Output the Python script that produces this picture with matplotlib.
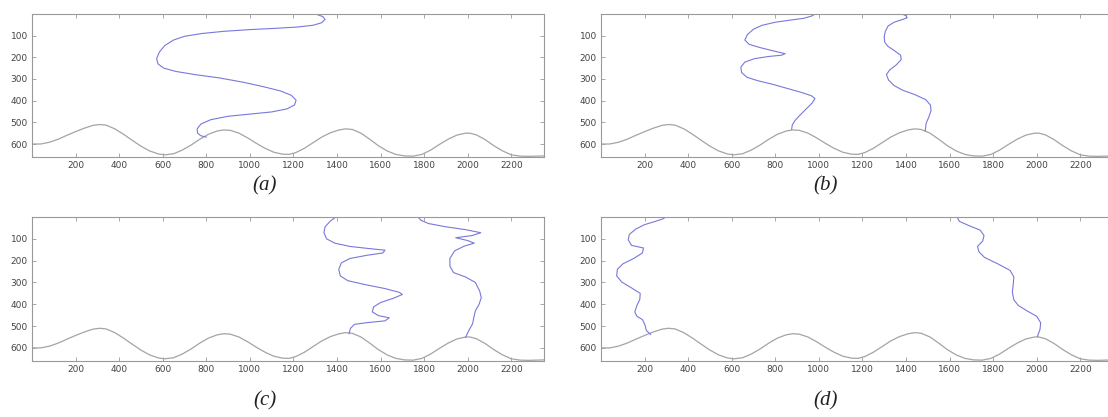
import matplotlib.pyplot as plt

# shared wavy ground line (same in all four panels)
ground_x = [0, 40, 80, 120, 160, 200, 240, 280, 310, 340, 380, 420, 460, 500, 540, 580,
            610, 650, 690, 730, 770, 810, 850, 880, 910, 950, 990, 1030, 1070, 1110, 1150,
            1180, 1210, 1250, 1290, 1330, 1370, 1410, 1440, 1470, 1510, 1550, 1590, 1630,
            1670, 1710, 1750, 1790, 1830, 1870, 1910, 1950, 1990, 2010, 2040, 2080, 2120,
            2160, 2200, 2240, 2280, 2350]
ground_y = [600, 600, 592, 578, 560, 543, 527, 514, 510, 513, 530, 555, 583, 610, 632, 646,
            650, 645, 628, 605, 578, 555, 540, 535, 537, 550, 572, 597, 620, 638, 647,
            648, 640, 620, 594, 568, 548, 535, 530, 533, 550, 578, 608, 632,
            648, 655, 656, 648, 628, 602, 578, 559, 550, 550, 558, 580, 608,
            632, 650, 656, 657, 655]

# (a)
a_x = [1310, 1335, 1345, 1330, 1290, 1220, 1120, 1000, 880, 780, 700, 650, 610, 585, 572,
       578, 605, 660, 750, 860, 970, 1060, 1140, 1190, 1212, 1205, 1170, 1100, 1000, 900,
       820, 775, 758, 760, 775, 800]
a_y = [3, 12, 25, 40, 52, 60, 66, 72, 80, 90, 103, 120, 145, 175, 205,
       230, 250, 265, 280, 295, 315, 335, 355, 375, 398, 420, 438, 452, 462, 472,
       488, 508, 530, 550, 562, 568]

# (b)
b1_x = [984, 965, 930, 870, 800, 740, 700, 672, 660, 680, 730, 790, 845, 830, 770, 705,
        660, 642, 645, 670, 720, 790, 860, 920, 965, 982, 970, 945, 915, 890, 878, 875]
b1_y = [0, 10, 20, 28, 38, 52, 70, 95, 120, 140, 155, 170, 183, 190, 196, 206,
        222, 245, 270, 292, 308, 325, 345, 362, 377, 390, 410, 435, 465, 492, 512, 532]
b2_x = [1382, 1400, 1405, 1385, 1345, 1318, 1305, 1300, 1302, 1318, 1345, 1375, 1378,
        1355, 1325, 1310, 1320, 1345, 1385, 1440, 1490, 1512, 1515, 1505, 1492, 1490, 1488]
b2_y = [0, 8, 17, 25, 38, 55, 80, 105, 130, 150, 168, 190, 210,
        235, 258, 280, 305, 330, 352, 372, 395, 420, 445, 475, 505, 525, 540]

# (c)
c1_x = [1395, 1370, 1345, 1340, 1352, 1390, 1460, 1550, 1620, 1610, 1540, 1460, 1420,
        1408, 1415, 1450, 1530, 1620, 1685, 1700, 1660, 1600, 1568, 1562, 1590, 1640,
        1620, 1540, 1480, 1462, 1455]
c1_y = [0, 18, 45, 72, 100, 120, 135, 145, 152, 165, 175, 190, 210,
        240, 270, 292, 310, 328, 345, 355, 372, 392, 412, 435, 452, 462,
        476, 484, 492, 510, 535]
c2_x = [1772, 1785, 1820, 1900, 1990, 2060, 2020, 1945, 2000, 2030, 1985, 1940, 1918,
        1918, 1935, 1990, 2035, 2055, 2062, 2052, 2035, 2028, 2022, 2005, 1990]
c2_y = [0, 15, 30, 45, 58, 72, 85, 95, 108, 120, 133, 155, 190,
        225, 255, 275, 300, 340, 370, 400, 430, 460, 490, 520, 552]

# (d)
d1_x = [298, 285, 250, 200, 160, 130, 125, 140, 195, 190, 150, 100, 75, 72, 95, 140,
        180, 178, 165, 155, 165, 190, 202, 208, 228]
d1_y = [0, 8, 20, 35, 55, 80, 105, 130, 142, 165, 190, 215, 240, 270, 298, 325,
        350, 378, 405, 435, 455, 470, 495, 520, 538]
d2_x = [1634, 1645, 1690, 1740, 1758, 1752, 1728, 1735, 1760, 1822, 1878, 1895, 1892,
        1888, 1895, 1915, 1955, 2000, 2018, 2015, 2003]
d2_y = [0, 20, 40, 60, 85, 110, 135, 160, 185, 215, 245, 275, 310,
        345, 380, 405, 430, 455, 485, 515, 548]

panels = [
    ('(a)', [(a_x, a_y)]),
    ('(b)', [(b1_x, b1_y), (b2_x, b2_y)]),
    ('(c)', [(c1_x, c1_y), (c2_x, c2_y)]),
    ('(d)', [(d1_x, d1_y), (d2_x, d2_y)]),
]

xticks = [200, 400, 600, 800, 1000, 1200, 1400, 1600, 1800, 2000, 2200]
yticks = [100, 200, 300, 400, 500, 600]

W, H = 1108, 417
fig = plt.figure(figsize=(W / 100, H / 100), dpi=100)

# axes boxes in pixels: left, top, right, bottom
boxes = [(32, 14, 544, 157), (601, 14, 1113, 157),
         (32, 217, 544, 361), (601, 217, 1113, 361)]
label_pos = [(265, 186), (826, 186), (265, 401), (826, 401)]

for (name, curves), (l, t, r, b), (lx, ly) in zip(panels, boxes, label_pos):
    ax = fig.add_axes([l / W, 1 - b / H, (r - l) / W, (b - t) / H])
    ax.plot(ground_x, ground_y, color='#a4a4a4', lw=0.9)
    for cx, cy in curves:
        ax.plot(cx, cy, color='#7878dc', lw=0.8)
    ax.set_xlim(0, 2350)
    ax.set_ylim(660, 0)
    ax.set_xticks(xticks)
    ax.set_yticks(yticks)
    ax.tick_params(direction='in', length=3, width=0.6, color='#999999',
                   top=True, right=True, labelsize=6.5, labelcolor='#444444', pad=3)
    for s in ax.spines.values():
        s.set_color('#999999')
        s.set_linewidth(0.8)
    fig.text(lx / W, 1 - ly / H, name, ha='center', va='center',
             fontsize=15, style='italic', family='Liberation Serif', color='#222222')

fig.savefig('out.png', dpi=100)
